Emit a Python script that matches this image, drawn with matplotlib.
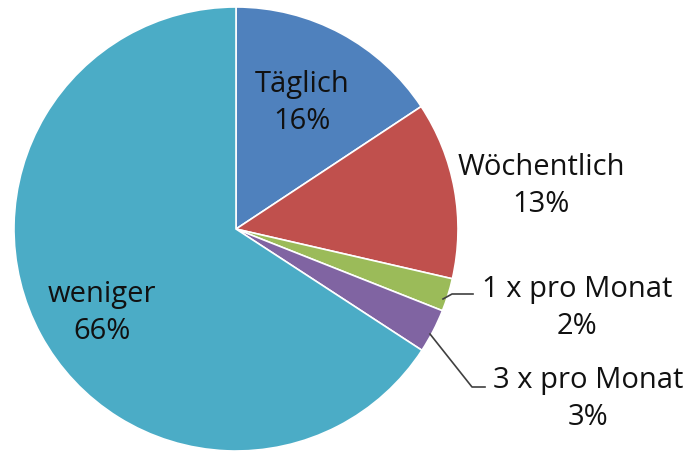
import matplotlib
matplotlib.use("Agg")
import matplotlib.pyplot as plt

categories = ["Täglich", "Wöchentlich", "1 x pro Monat", "3 x pro Monat", "weniger"]
values = [15.7, 12.9, 2.4, 3.2, 65.8]
colors = ["#4F81BD", "#C0504D", "#9BBB59", "#8064A2", "#4BACC6"]

W, H = 693, 452
fig = plt.figure(figsize=(W / 100, H / 100), dpi=100)
cx, cy, r = 236, 230, 222
ax = fig.add_axes([(cx - r) / W, (H - cy - r) / H, 2 * r / W, 2 * r / H])
wedges, _ = ax.pie(values, colors=colors, startangle=90, counterclock=False,
                   radius=1, wedgeprops=dict(edgecolor="white", linewidth=1.2))
ax.set_xlim(-1, 1)
ax.set_ylim(-1, 1)
ax.set_aspect("equal")
ax.axis("off")

total = sum(values)
pcts = [f"{round(v / total * 100)}%" for v in values]

# label centre positions in pixels (x, y from top)
label_pos = [(302, 103), (541, 186), (577, 308), (588, 399), (102, 313)]
fs = 21
for cat, p, (px, py) in zip(categories, pcts, label_pos):
    fig.text(px / W, 1 - py / H, f"{cat}\n{p}", ha="center", va="center",
             fontsize=fs, color="#111111", family="Open Sans", linespacing=1.38)

# leader lines (pixel coords)
def line(pts):
    xs = [p[0] / W for p in pts]
    ys = [1 - p[1] / H for p in pts]
    fig.add_artist(plt.Line2D(xs, ys, color="#404040", linewidth=1.2))

line([(443, 300), (452, 295), (473, 295)])
line([(430, 335), (472, 388), (485, 388)])

fig.savefig("out.png", dpi=100)
